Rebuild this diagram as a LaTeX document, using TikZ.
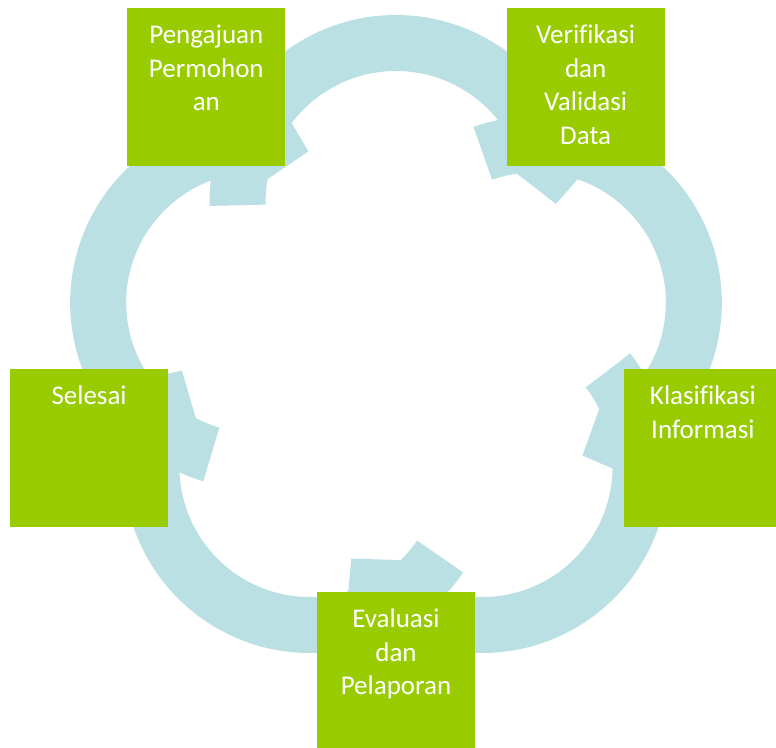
\documentclass[tikz,border=0pt]{standalone}
\usepackage{fontspec}
\setmainfont{Carlito}[Ligatures=NoCommon]
\usepackage{tikz}
\usetikzlibrary{calc}

\definecolor{biruSiklus}{HTML}{BBE0E3}
\definecolor{hijauKotak}{HTML}{99CC00}
\newcommand{\isikotak}[1]{\parbox[c][126pt][t]{150pt}{\centering\rule{0pt}{20pt}#1}}

\begin{document}
\begin{tikzpicture}[x=1pt, y=1pt, line join=round,
    kotak/.style={fill=hijauKotak, minimum size=158pt, inner sep=0pt,
      text=white, font=\fontsize{27}{33.5}\selectfont}]
  \useasboundingbox (0,0) rectangle (776,747);
  % Titik pusat siklus
  \coordinate (P) at (396,399);
  % Panah melingkar antar tahap (searah jarum jam)
  \foreach \a in {90,18,-54,-126,162} {
    \coordinate (M) at ($(P)+(\a:146.6)$);
    \fill[biruSiklus] ($(M)+(\a+91.4:186.4)$)
      arc[start angle=\a+91.4, end angle=\a-70, radius=186.4pt]
      -- ($(M)+(\a-70:253.6)$) -- ($(M)+(\a-90.9:160)$) -- ($(M)+(\a-70:113.4)$)
      -- ($(M)+(\a-70:130.4)$)
      arc[start angle=\a-70, end angle=\a+91.4, radius=130.4pt] -- cycle;
  }
  % Kotak tahapan
  \node[kotak] (pengajuan) at ($(P)+(126:322.7)$) {\isikotak{Pengajuan\\Permohon\\an}};
  \node[kotak] (verifikasi) at ($(P)+(54:322.7)$) {\isikotak{Verifikasi\\dan\\Validasi\\Data}};
  \node[kotak] (klasifikasi) at ($(P)+(-18:322.7)$) {\isikotak{Klasifikasi\\Informasi}};
  \node[kotak] (evaluasi) at ($(P)+(-90:322.7)$) {\isikotak{Evaluasi\\dan\\Pelaporan}};
  \node[kotak] (selesai) at ($(P)+(198:322.7)$) {\isikotak{Selesai}};
\end{tikzpicture}
\end{document}
